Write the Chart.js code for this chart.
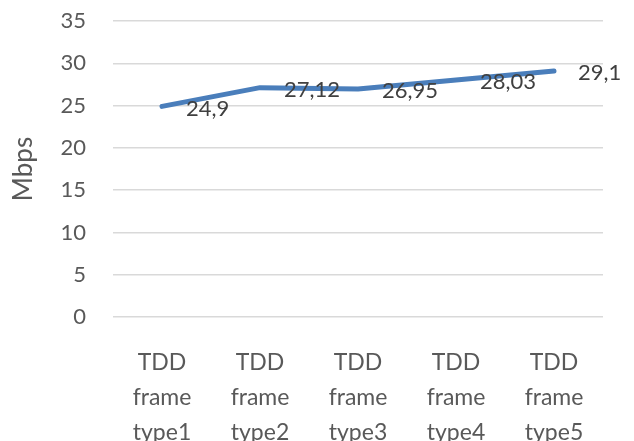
<!DOCTYPE html>
<html>
<head>
<meta charset="utf-8">
<script src="https://cdn.jsdelivr.net/npm/chart.js@4"></script>
<style>
  body { margin: 0; background: #fff; }
</style>
</head>
<body>
<canvas id="chart" width="634" height="441"></canvas>
<script>
// Chart data
const frameTypes = [
    ['TDD', 'frame', 'type1'],
    ['TDD', 'frame', 'type2'],
    ['TDD', 'frame', 'type3'],
    ['TDD', 'frame', 'type4'],
    ['TDD', 'frame', 'type5']
];
const throughput = [24.9, 27.12, 26.95, 28.03, 29.1];
const yMin = 0;
const yMax = 35;
const yStep = 5;

const textColor = '#595959';

// Draws the value next to each point (comma as decimal sign)
const valueLabels = {
    id: 'valueLabels',
    afterDatasetsDraw(chart) {
        const ctx = chart.ctx;
        const meta = chart.getDatasetMeta(0);
        ctx.save();
        ctx.font = '22px Lato';
        ctx.fillStyle = '#404040';
        ctx.textAlign = 'left';
        ctx.textBaseline = 'middle';
        meta.data.forEach((pt, i) => {
            const txt = String(throughput[i]).replace('.', ',');
            ctx.fillText(txt, pt.x + 24, pt.y + 2);
        });
        ctx.restore();
    }
};

const ctx = document.getElementById('chart').getContext('2d');
const chart = new Chart(ctx, {
    type: 'line',
    data: {
        labels: frameTypes,
        datasets: [{
            label: 'Mbps',
            data: throughput,
            borderColor: '#4a7ebb',
            borderWidth: 5,
            borderCapStyle: 'round',
            borderJoinStyle: 'round',
            pointRadius: 0,
            tension: 0,
            fill: false
        }]
    },
    options: {
        responsive: false,
        animation: false,
        layout: {
            padding: { top: 21, right: 31, left: 0, bottom: 0 }
        },
        plugins: {
            legend: { display: false },
            tooltip: { enabled: false }
        },
        scales: {
            x: {
                offset: true,
                grid: { display: false },
                border: { display: false },
                ticks: {
                    color: textColor,
                    font: { family: 'Lato', size: 23, lineHeight: 1.52 },
                    padding: 20,
                    maxRotation: 0,
                    autoSkip: false
                },
                afterFit(scale) { scale.height = 124; }
            },
            y: {
                min: yMin,
                max: yMax,
                grid: { color: '#d9d9d9', lineWidth: 1.5, drawTicks: false },
                border: { display: false },
                ticks: {
                    stepSize: yStep,
                    color: textColor,
                    font: { family: 'Lato', size: 22 },
                    padding: 27
                },
                title: {
                    display: true,
                    text: 'Mbps',
                    color: textColor,
                    font: { family: 'Lato', size: 26 },
                    padding: { top: 8, bottom: 0 }
                },
                afterFit(scale) {
                    scale.width = 113;
                    // tick padding should not push the plot down
                    scale.paddingTop = 0;
                    scale.paddingBottom = 0;
                }
            }
        }
    },
    plugins: [valueLabels]
});
</script>
</body>
</html>
